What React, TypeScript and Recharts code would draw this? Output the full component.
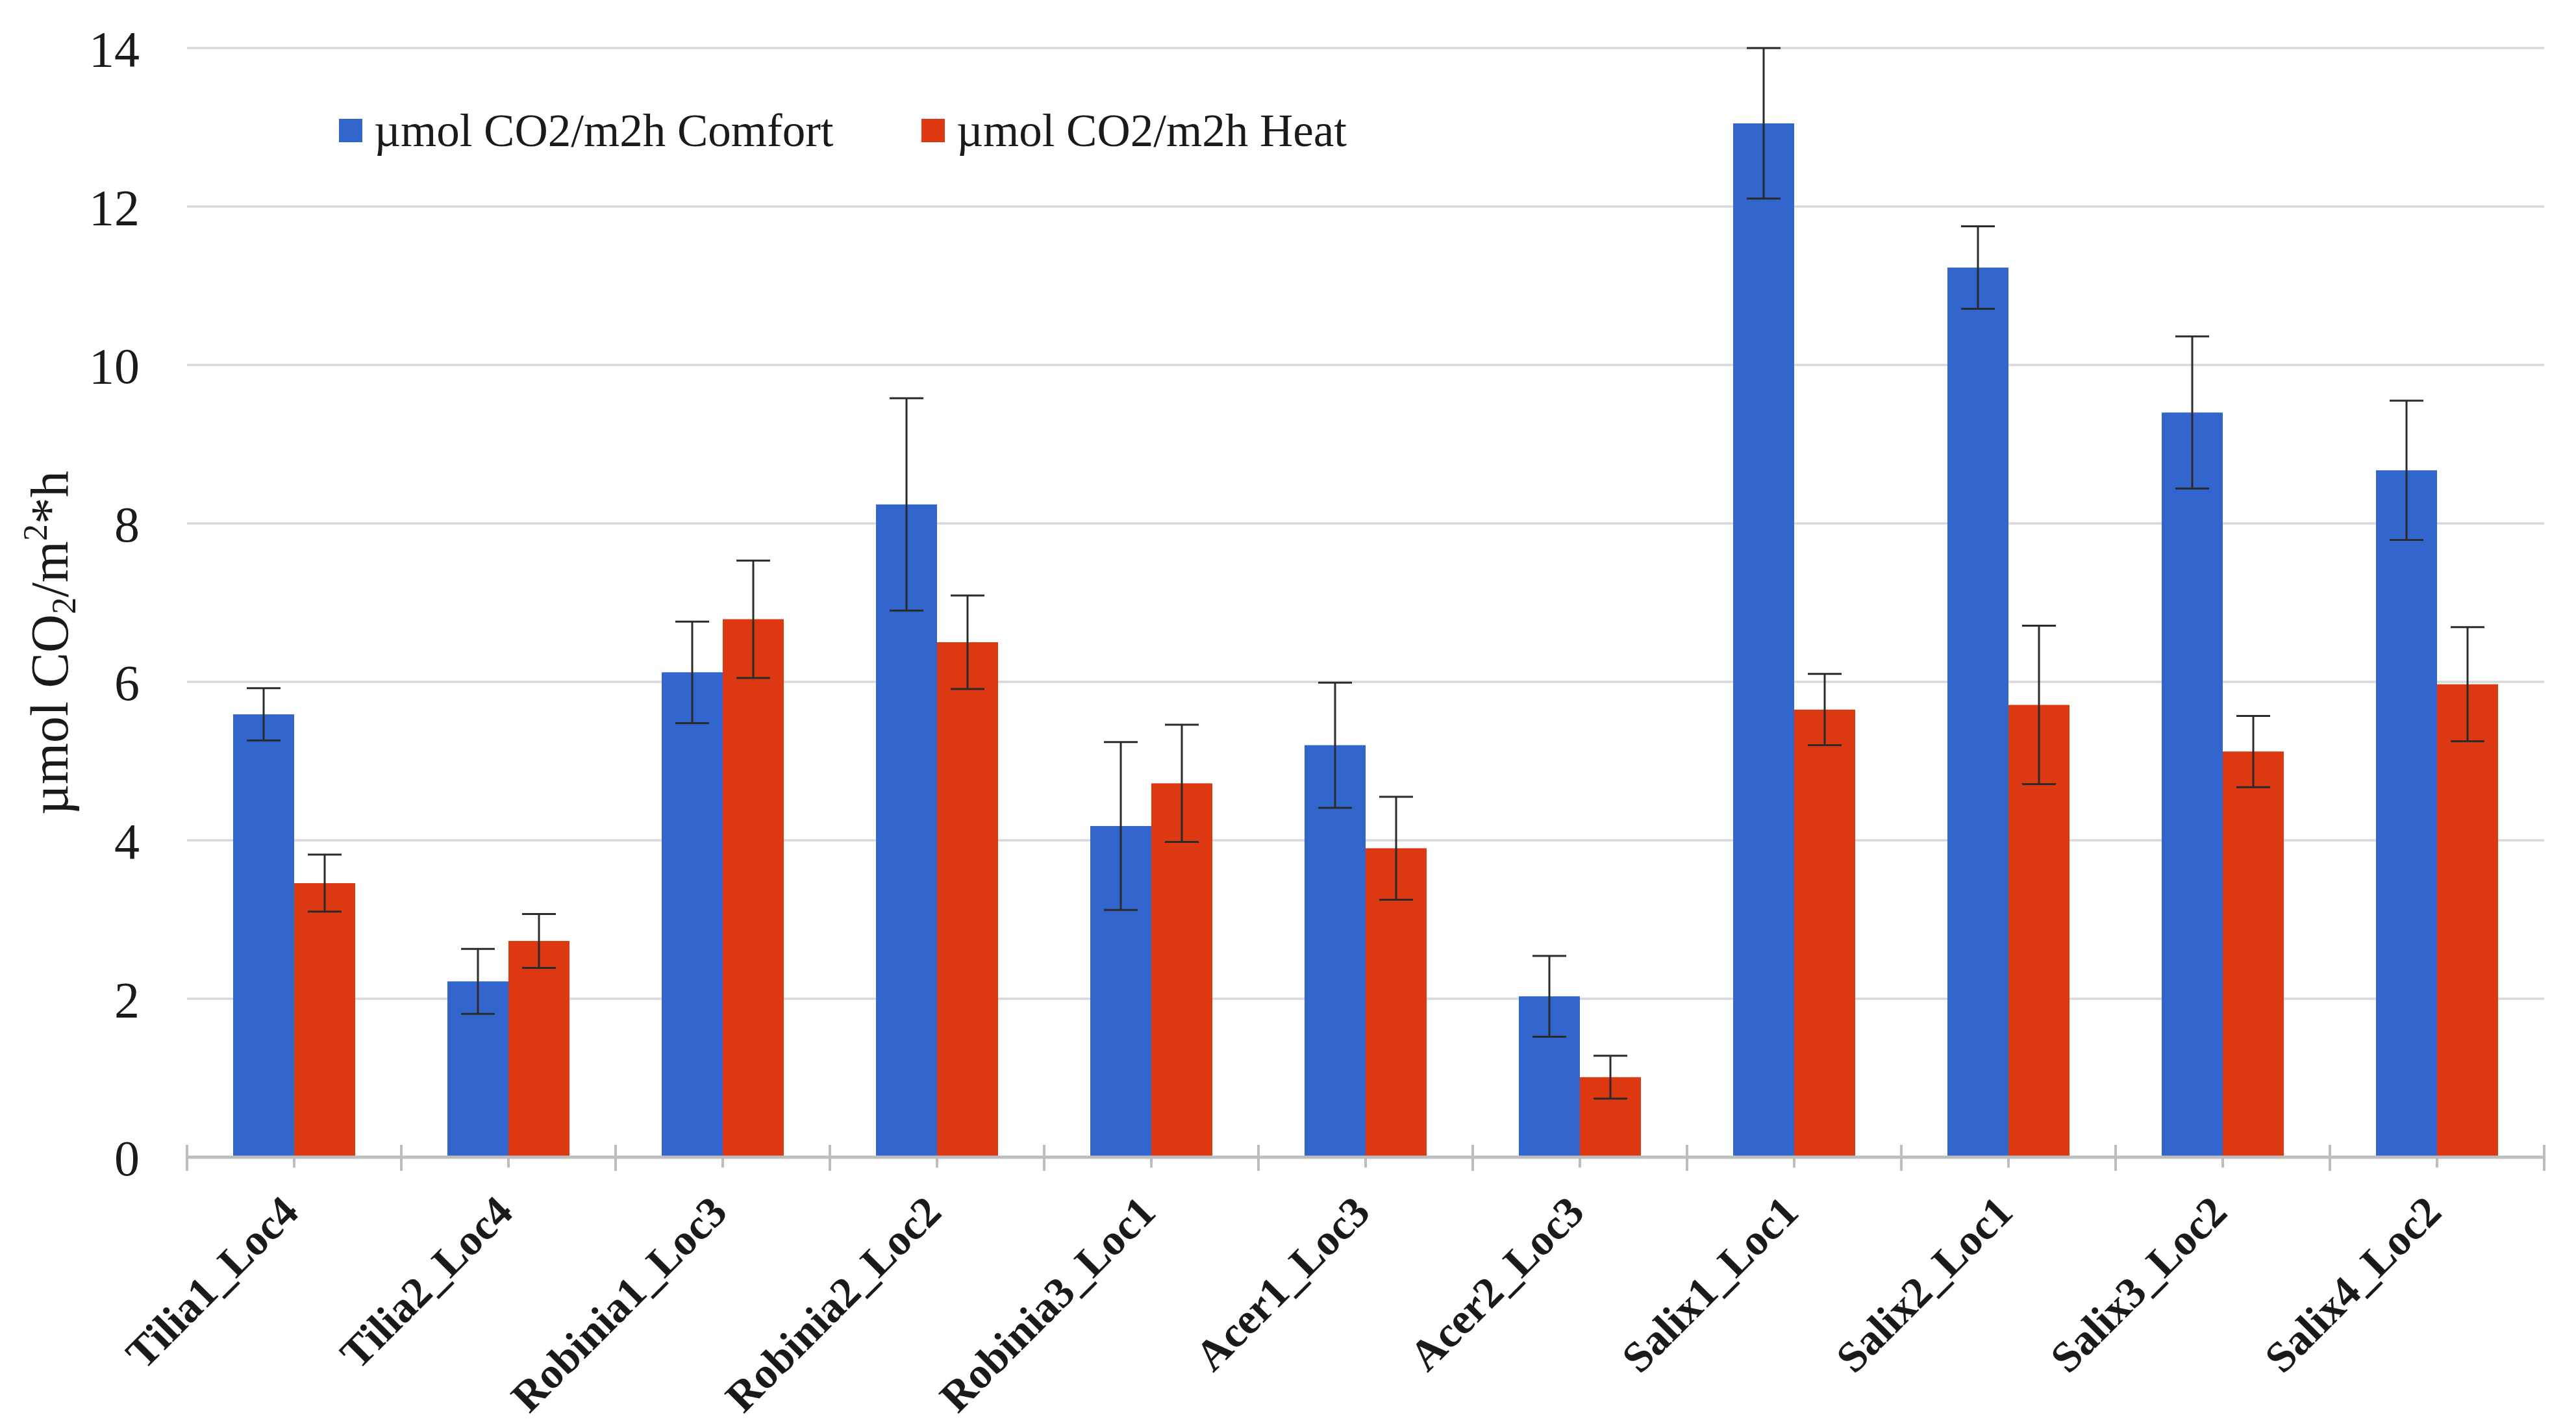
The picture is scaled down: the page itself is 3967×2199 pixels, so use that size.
import React from "react";
import { BarChart, Bar, XAxis, YAxis, CartesianGrid, ErrorBar } from "recharts";

const categories = [
  "Tilia1_Loc4", "Tilia2_Loc4", "Robinia1_Loc3", "Robinia2_Loc2", "Robinia3_Loc1",
  "Acer1_Loc3", "Acer2_Loc3", "Salix1_Loc1", "Salix2_Loc1", "Salix3_Loc2", "Salix4_Loc2",
];
const comfort = [5.59, 2.22, 6.12, 8.24, 4.18, 5.2, 2.03, 13.05, 11.23, 9.4, 8.67];
const comfortErr = [0.33, 0.41, 0.64, 1.34, 1.06, 0.79, 0.51, 0.95, 0.52, 0.96, 0.88];
const heat = [3.46, 2.73, 6.79, 6.5, 4.72, 3.9, 1.01, 5.65, 5.71, 5.12, 5.97];
const heatErr = [0.36, 0.34, 0.74, 0.59, 0.74, 0.65, 0.27, 0.45, 1.0, 0.45, 0.72];
const yTicks = [0, 2, 4, 6, 8, 10, 12, 14];
const seriesNames = ["µmol CO2/m2h Comfort", "µmol CO2/m2h Heat"];

const BLUE = "#3366CC";
const RED = "#DC3912";
const FONT = "Liberation Serif";
const TEXT = "#1a1a1a";

const data = categories.map((name, i) => ({
  name,
  comfort: comfort[i],
  comfortErr: comfortErr[i],
  heat: heat[i],
  heatErr: heatErr[i],
}));

const XTick = (props: any) => {
  const { x, y, payload, index, visibleTicksCount, width } = props;
  const band = width && visibleTicksCount ? width / visibleTicksCount : 330;
  const left = x - band / 2;
  const right = x + band / 2;
  const isLast = index === visibleTicksCount - 1;
  return (
    <g>
      <line x1={left} x2={left} y1={y - 19} y2={y + 21} stroke="#bdbdbd" strokeWidth={4} />
      {isLast && <line x1={right} x2={right} y1={y - 19} y2={y + 21} stroke="#bdbdbd" strokeWidth={4} />}
      <line x1={x} x2={x} y1={y} y2={y + 16} stroke="#bdbdbd" strokeWidth={4} />
      <text
        x={x + 10}
        y={y + 88}
        transform={`rotate(-45, ${x + 10}, ${y + 88})`}
        textAnchor="end"
        style={{ fontFamily: FONT }}
        fontFamily={FONT}
        fontWeight="bold"
        fontSize={67}
        fill={TEXT}
      >
        {payload.value}
      </text>
    </g>
  );
};

const YLabel = (props: any) => {
  const vb = props.viewBox || { x: 0, y: 66, width: 280, height: 1708 };
  const cx = vb.x + 96;
  const cy = vb.y + vb.height / 2 + 62;
  return (
    <text
      x={cx}
      y={cy}
      transform={`rotate(-90, ${cx}, ${cy})`}
      textAnchor="middle"
      style={{ fontFamily: FONT }}
      fontFamily={FONT}
      fontSize={82}
      fill={TEXT}
    >
      <tspan>µmol CO</tspan>
      <tspan fontSize={52} dy={12}>2</tspan>
      <tspan dy={-12}>/m</tspan>
      <tspan fontSize={52} dy={-32}>2</tspan>
      <tspan dy={32}>*h</tspan>
    </text>
  );
};

const LegendItem = ({ color, label, left }: { color: string; label: string; left: number }) => (
  <div
    style={{
      position: "absolute",
      left,
      top: 0,
      display: "flex",
      alignItems: "center",
      whiteSpace: "nowrap",
    }}
  >
    <div style={{ width: 36, height: 36, background: color, marginRight: 18 }} />
    <span style={{ fontFamily: FONT, fontSize: 71, color: TEXT, lineHeight: "60px" }}>{label}</span>
  </div>
);

export default function App() {
  return (
    <div style={{ position: "relative", width: 3950, height: 2191 }}>
      <BarChart
        width={3950}
        height={2191}
        data={data}
        margin={{ top: 66, right: 40, left: 0, bottom: 0 }}
        barGap={0}
        barSize={94}
      >
        <CartesianGrid vertical={false} stroke="#d9d9d9" strokeWidth={3.5} />
        <XAxis
          dataKey="name"
          height={417}
          interval={0}
          tickLine={false}
          tickSize={0}
          tickMargin={0}
          axisLine={{ stroke: "#bdbdbd", strokeWidth: 5 }}
          tick={<XTick />}
        />
        <YAxis
          width={280}
          domain={[0, 14]}
          ticks={yTicks}
          tickLine={false}
          axisLine={false}
          tickSize={0}
          tickMargin={73}
          tick={{ fontSize: 78, fill: TEXT, fontFamily: FONT }}
          label={<YLabel />}
        />
        <Bar dataKey="comfort" name={seriesNames[0]} fill={BLUE} isAnimationActive={false}>
          <ErrorBar dataKey="comfortErr" width={26} strokeWidth={3} stroke="#2b2b2b" />
        </Bar>
        <Bar dataKey="heat" name={seriesNames[1]} fill={RED} isAnimationActive={false}>
          <ErrorBar dataKey="heatErr" width={26} strokeWidth={3} stroke="#2b2b2b" />
        </Bar>
      </BarChart>
      <div style={{ position: "absolute", left: 514, top: 163, width: 1800, height: 60 }}>
        <LegendItem color={BLUE} label={seriesNames[0]} left={0} />
        <LegendItem color={RED} label={seriesNames[1]} left={897} />
      </div>
    </div>
  );
}
